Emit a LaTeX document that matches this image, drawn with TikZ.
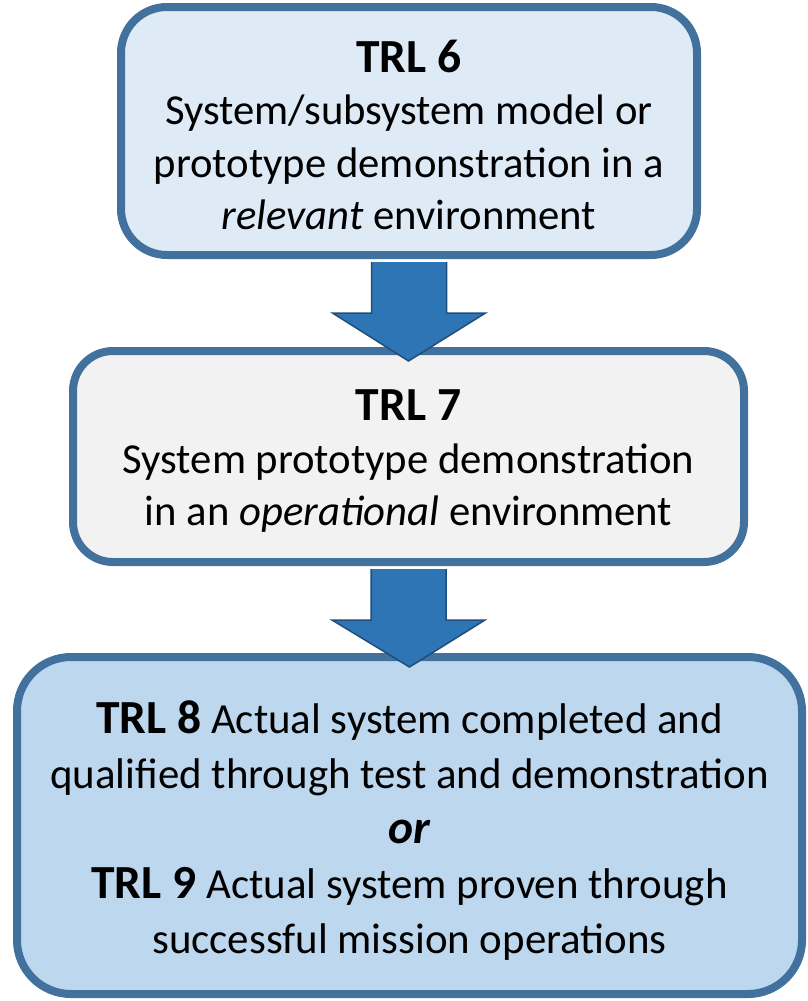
\documentclass[tikz,border=0pt]{standalone}
\usepackage{fontspec}
\setmainfont{Carlito}
\usetikzlibrary{calc}
\definecolor{bord}{HTML}{41719C}
\definecolor{fillA}{HTML}{DEEBF7}
\definecolor{fillB}{HTML}{F2F2F2}
\definecolor{fillC}{HTML}{BDD7EE}
\definecolor{arrfill}{HTML}{2E75B6}
\definecolor{arrline}{HTML}{1F4E79}
\tikzset{
  trlbox/.style={draw=bord, line width=8pt, rectangle, inner sep=0pt},
  boxtext/.style={align=center, inner sep=0pt, text=black, font=\fontsize{42.7}{52.5}\selectfont},
  bigarrow/.style={fill=arrfill, draw=arrline, line width=1.5pt, line join=miter},
}
\newcommand{\ttl}[1]{{\fontsize{47.5}{52.5}\selectfont\bfseries #1}}
\begin{document}
\begin{tikzpicture}[x=1pt,y=-1pt]
\useasboundingbox (0,0) rectangle (807,1001);
\node[trlbox, fill=fillA, rounded corners=46pt, minimum width=576pt, minimum height=248pt] (b1) at (409,131) {};
\node[trlbox, fill=fillB, rounded corners=40pt, minimum width=671pt, minimum height=211pt] (b2) at (408.5,456.5) {};
\node[trlbox, fill=fillC, rounded corners=54pt, minimum width=785pt, minimum height=337pt] (b3) at (409.5,825.5) {};
\node[boxtext] (t1) at ($(b1.center)+(0,4)$)
  {\ttl{TRL 6}\\System/subsystem model or\\prototype demonstration in a\\\textit{relevant} environment};
\node[boxtext] (t2) at ($(b2.center)+(0,5)$)
  {\ttl{TRL 7}\\System prototype demonstration\\in an \textit{operational} environment};
\node[boxtext, font=\fontsize{42.9}{55}\selectfont] (t3) at ($(b3.center)+(0,5)$)
  {\ttl{TRL 8} Actual system completed and\\qualified through test and demonstration\\\ttl{\textit{or}}\\\ttl{TRL 9} Actual system proven through\\successful mission operations};
% arrows
\foreach \a/\b in {b1/b2, b2/b3}{
  \draw[bigarrow]
    ($(\a.south)+(-37.5,3)$) -- ($(\a.south)+(-37.5,54)$) -- ($(\a.south)+(-76.5,54)$)
    -- ($(\b.north)+(0,14)$)
    -- ($(\a.south)+(76.5,54)$) -- ($(\a.south)+(37.5,54)$) -- ($(\a.south)+(37.5,3)$);
}
\end{tikzpicture}
\end{document}
